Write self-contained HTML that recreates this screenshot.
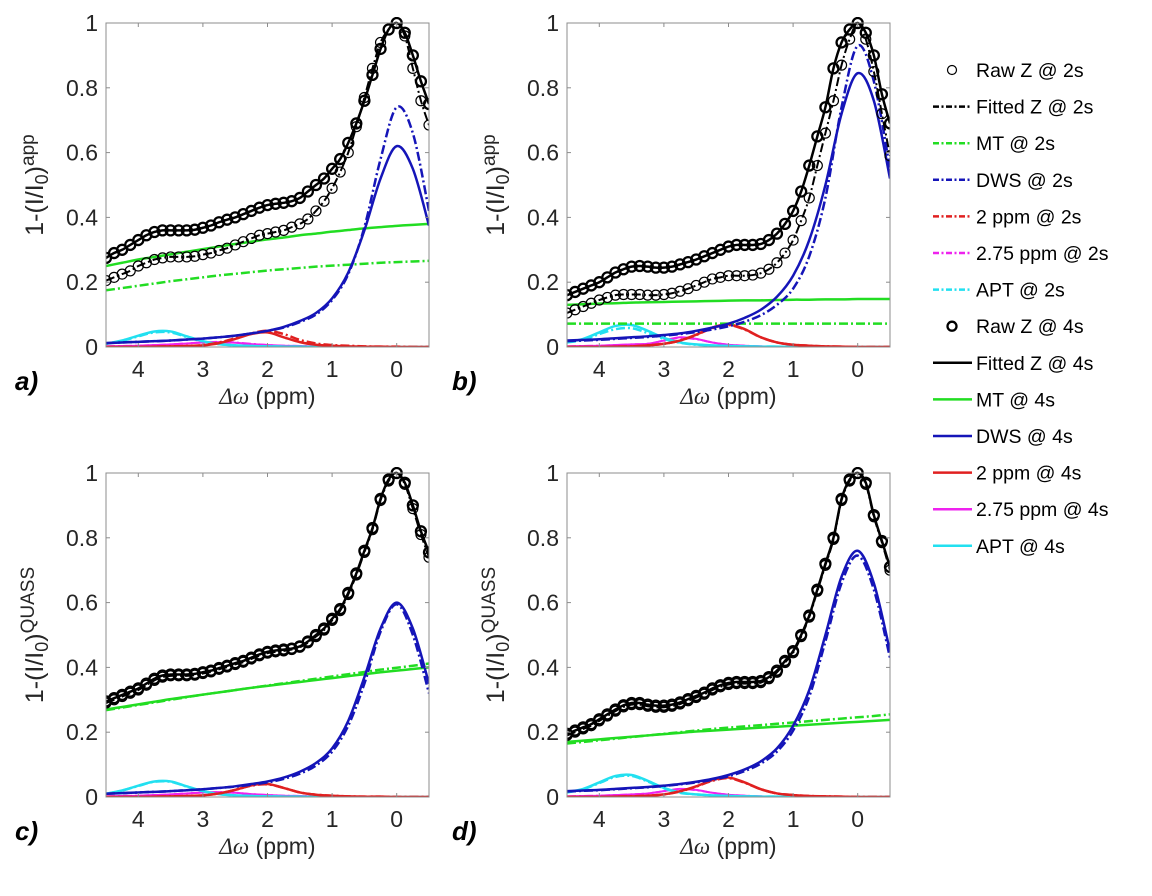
<!DOCTYPE html>
<html><head><meta charset="utf-8"><style>
html,body{margin:0;padding:0;background:#fff;}
svg{display:block;font-family:"Liberation Sans",sans-serif;}
</style></head><body>
<svg id="fig" width="1152" height="896" viewBox="0 0 1152 896" xmlns="http://www.w3.org/2000/svg"></svg>
<script>
// x grids (ppm)
const xFine = [];  for (let i=0;i<=40;i++) xFine.push(4.5 - i*0.125);
const xCoarse = []; for (let i=0;i<=20;i++) xCoarse.push(4.5 - i*0.25);
const yTicks = [0,0.2,0.4,0.6,0.8,1];
const yTickLabels = ["0","0.2","0.4","0.6","0.8","1"];
const xTicks = [4,3,2,1,0];
const xTickLabels = ["4","3","2","1","0"];

// ---- panel a ----
const aRaw4 = [0.275,0.29,0.30,0.315,0.33,0.345,0.355,0.36,0.36,0.36,0.36,0.362,0.368,0.375,0.385,0.393,0.40,0.41,0.42,0.43,0.438,0.442,0.445,0.45,0.46,0.48,0.50,0.52,0.55,0.58,0.63,0.69,0.76,0.84,0.92,0.98,1.0,0.97,0.90,0.82,0.75];
const aRaw2 = [0.205,0.215,0.225,0.235,0.25,0.26,0.27,0.275,0.278,0.278,0.278,0.28,0.285,0.29,0.298,0.305,0.315,0.325,0.335,0.345,0.35,0.355,0.36,0.37,0.38,0.395,0.42,0.45,0.49,0.54,0.60,0.68,0.77,0.86,0.94,0.98,1.0,0.96,0.86,0.76,0.685];
const aMT4 = [0.25,0.26,0.27,0.278,0.286,0.294,0.302,0.31,0.318,0.325,0.332,0.338,0.345,0.35,0.356,0.361,0.366,0.37,0.374,0.377,0.38];
const aMT2 = [0.175,0.182,0.189,0.196,0.203,0.209,0.215,0.221,0.226,0.231,0.236,0.24,0.244,0.248,0.251,0.254,0.257,0.26,0.262,0.264,0.266];
const aDWS4 = [0.012,0.014,0.016,0.018,0.02,0.023,0.026,0.03,0.035,0.042,0.05,0.062,0.08,0.105,0.15,0.23,0.36,0.52,0.62,0.55,0.375];
const aDWS2 = [0.012,0.014,0.016,0.018,0.02,0.023,0.026,0.03,0.035,0.042,0.05,0.06,0.077,0.1,0.145,0.225,0.37,0.58,0.74,0.66,0.42];
const aP2_4 = [0,0,0,0.001,0.002,0.003,0.005,0.012,0.025,0.04,0.045,0.03,0.015,0.007,0.004,0.002,0.001,0.001,0,0,0];
const aP2_2 = [0,0,0,0.001,0.002,0.003,0.006,0.014,0.027,0.042,0.05,0.04,0.022,0.011,0.006,0.004,0.002,0.001,0.001,0,0];
const aP275_4 = [0.002,0.003,0.004,0.006,0.008,0.011,0.014,0.015,0.013,0.009,0.006,0.004,0.003,0.002,0.001,0.001,0,0,0,0,0];
const aP275_2 = [0.002,0.003,0.004,0.006,0.008,0.011,0.014,0.016,0.014,0.01,0.006,0.004,0.003,0.002,0.001,0.001,0,0,0,0,0];
const aAPT4 = [0.01,0.02,0.035,0.048,0.048,0.033,0.018,0.009,0.005,0.003,0.002,0.001,0.001,0,0,0,0,0,0,0,0];
const aAPT2 = [0.01,0.019,0.033,0.045,0.045,0.031,0.017,0.009,0.005,0.003,0.002,0.001,0.001,0,0,0,0,0,0,0,0];

// ---- panel b ----
const bRaw4 = [0.16,0.17,0.18,0.19,0.2,0.215,0.23,0.24,0.248,0.25,0.248,0.245,0.245,0.248,0.255,0.262,0.27,0.28,0.29,0.30,0.31,0.315,0.315,0.315,0.318,0.33,0.35,0.38,0.42,0.48,0.56,0.65,0.74,0.86,0.94,0.98,1.0,0.97,0.90,0.78,0.69];
const bRaw2 = [0.105,0.115,0.125,0.135,0.145,0.153,0.16,0.162,0.162,0.162,0.16,0.16,0.162,0.166,0.172,0.18,0.19,0.2,0.21,0.215,0.22,0.22,0.22,0.222,0.228,0.24,0.26,0.29,0.33,0.39,0.46,0.56,0.66,0.76,0.87,0.95,1.0,0.95,0.85,0.72,0.59];
const bMT4 = [0.13,0.132,0.134,0.135,0.137,0.138,0.139,0.14,0.141,0.142,0.143,0.144,0.144,0.145,0.146,0.146,0.147,0.147,0.148,0.148,0.148];
const bMT2 = [0.072,0.072,0.072,0.072,0.072,0.072,0.072,0.072,0.072,0.072,0.072,0.072,0.072,0.072,0.072,0.072,0.072,0.072,0.072,0.072,0.072];
const bDWS4 = [0.02,0.022,0.024,0.027,0.03,0.033,0.037,0.042,0.05,0.06,0.072,0.09,0.115,0.155,0.22,0.33,0.5,0.72,0.845,0.76,0.52];
const bDWS2 = [0.018,0.02,0.022,0.025,0.028,0.031,0.035,0.04,0.046,0.054,0.064,0.078,0.098,0.13,0.18,0.28,0.46,0.74,0.93,0.82,0.55];
const bP2_4 = [0,0,0,0.001,0.002,0.005,0.01,0.02,0.038,0.06,0.07,0.055,0.03,0.014,0.007,0.004,0.002,0.001,0,0,0];
const bP2_2 = [0,0,0,0.001,0.002,0.005,0.01,0.02,0.037,0.058,0.068,0.054,0.03,0.014,0.007,0.004,0.002,0.001,0,0,0];
const bP275_4 = [0.002,0.003,0.004,0.006,0.008,0.01,0.02,0.03,0.025,0.014,0.007,0.004,0.002,0.001,0.001,0,0,0,0,0,0];
const bP275_2 = [0.002,0.003,0.004,0.006,0.008,0.01,0.019,0.028,0.024,0.014,0.007,0.004,0.002,0.001,0.001,0,0,0,0,0,0];
const bAPT4 = [0.015,0.025,0.045,0.065,0.068,0.05,0.028,0.014,0.008,0.005,0.003,0.002,0.001,0.001,0,0,0,0,0,0,0];
const bAPT2 = [0.014,0.022,0.04,0.055,0.058,0.043,0.025,0.013,0.007,0.004,0.003,0.002,0.001,0.001,0,0,0,0,0,0,0];

// ---- panel c ----
const cRaw4 = [0.295,0.305,0.315,0.325,0.335,0.35,0.365,0.375,0.378,0.378,0.378,0.38,0.385,0.39,0.398,0.405,0.413,0.42,0.43,0.44,0.448,0.452,0.455,0.458,0.465,0.48,0.5,0.52,0.55,0.58,0.63,0.69,0.76,0.83,0.92,0.98,1.0,0.97,0.90,0.82,0.755];
const cRaw2 = [0.29,0.3,0.31,0.32,0.33,0.345,0.36,0.37,0.374,0.374,0.374,0.376,0.381,0.386,0.394,0.401,0.409,0.416,0.426,0.436,0.444,0.448,0.451,0.455,0.462,0.476,0.495,0.515,0.545,0.575,0.625,0.685,0.755,0.825,0.915,0.975,1.0,0.965,0.89,0.81,0.74];
const cMT4 = [0.27,0.278,0.286,0.294,0.302,0.309,0.316,0.323,0.33,0.337,0.343,0.349,0.355,0.361,0.367,0.373,0.379,0.385,0.39,0.395,0.40];
const cMT2 = [0.268,0.276,0.284,0.292,0.3,0.308,0.316,0.323,0.33,0.337,0.344,0.351,0.358,0.365,0.372,0.379,0.386,0.393,0.399,0.405,0.412];
const cDWS4 = [0.01,0.012,0.014,0.016,0.018,0.021,0.024,0.028,0.033,0.04,0.048,0.06,0.078,0.105,0.15,0.235,0.37,0.52,0.6,0.52,0.35];
const cDWS2 = [0.01,0.012,0.014,0.016,0.018,0.021,0.024,0.028,0.032,0.038,0.045,0.056,0.072,0.097,0.14,0.22,0.35,0.51,0.595,0.5,0.32];
const cP2_4 = [0,0,0,0.001,0.002,0.003,0.005,0.011,0.022,0.036,0.04,0.028,0.014,0.007,0.004,0.002,0.001,0.001,0,0,0];
const cP2_2 = [0,0,0,0.001,0.002,0.003,0.005,0.011,0.022,0.035,0.039,0.028,0.014,0.007,0.004,0.002,0.001,0.001,0,0,0];
const cP275_4 = [0.002,0.003,0.004,0.006,0.008,0.011,0.014,0.015,0.013,0.009,0.006,0.004,0.003,0.002,0.001,0.001,0,0,0,0,0];
const cP275_2 = [0.002,0.003,0.004,0.006,0.008,0.011,0.014,0.015,0.013,0.009,0.006,0.004,0.003,0.002,0.001,0.001,0,0,0,0,0];
const cAPT4 = [0.01,0.02,0.035,0.048,0.048,0.033,0.018,0.009,0.005,0.003,0.002,0.001,0.001,0,0,0,0,0,0,0,0];
const cAPT2 = [0.01,0.02,0.034,0.047,0.047,0.032,0.018,0.009,0.005,0.003,0.002,0.001,0.001,0,0,0,0,0,0,0,0];

// ---- panel d ----
const dRaw4 = [0.195,0.205,0.215,0.225,0.24,0.255,0.27,0.283,0.29,0.29,0.285,0.282,0.282,0.285,0.292,0.302,0.312,0.322,0.335,0.345,0.352,0.355,0.355,0.355,0.358,0.37,0.39,0.42,0.45,0.5,0.56,0.64,0.72,0.8,0.92,0.98,1.0,0.97,0.87,0.79,0.71];
const dRaw2 = [0.19,0.2,0.21,0.22,0.235,0.25,0.265,0.278,0.285,0.285,0.28,0.277,0.277,0.28,0.287,0.297,0.307,0.317,0.33,0.34,0.347,0.35,0.35,0.35,0.353,0.365,0.385,0.415,0.445,0.495,0.555,0.635,0.715,0.795,0.915,0.975,1.0,0.965,0.865,0.785,0.70];
const dMT4 = [0.17,0.174,0.178,0.182,0.186,0.19,0.194,0.198,0.202,0.205,0.208,0.211,0.214,0.217,0.22,0.223,0.226,0.229,0.232,0.235,0.238];
const dMT2 = [0.165,0.17,0.175,0.18,0.185,0.19,0.195,0.2,0.205,0.21,0.214,0.218,0.222,0.226,0.23,0.234,0.238,0.242,0.246,0.25,0.255];
const dDWS4 = [0.018,0.02,0.022,0.025,0.028,0.031,0.035,0.04,0.047,0.056,0.068,0.085,0.11,0.15,0.22,0.33,0.5,0.68,0.76,0.66,0.45];
const dDWS2 = [0.017,0.019,0.021,0.024,0.027,0.03,0.034,0.039,0.045,0.053,0.064,0.08,0.103,0.14,0.205,0.31,0.48,0.66,0.745,0.64,0.43];
const dP2_4 = [0,0,0,0.001,0.002,0.004,0.008,0.018,0.033,0.052,0.06,0.045,0.024,0.011,0.006,0.003,0.002,0.001,0,0,0];
const dP2_2 = [0,0,0,0.001,0.002,0.004,0.008,0.017,0.032,0.05,0.058,0.044,0.024,0.011,0.006,0.003,0.002,0.001,0,0,0];
const dP275_4 = [0.002,0.003,0.004,0.006,0.008,0.011,0.018,0.025,0.022,0.013,0.007,0.004,0.002,0.001,0.001,0,0,0,0,0,0];
const dP275_2 = [0.002,0.003,0.004,0.006,0.008,0.011,0.018,0.024,0.021,0.013,0.007,0.004,0.002,0.001,0.001,0,0,0,0,0,0];
const dAPT4 = [0.015,0.025,0.045,0.065,0.068,0.05,0.028,0.014,0.008,0.005,0.003,0.002,0.001,0.001,0,0,0,0,0,0,0];
const dAPT2 = [0.014,0.024,0.043,0.062,0.065,0.048,0.027,0.013,0.008,0.005,0.003,0.002,0.001,0.001,0,0,0,0,0,0,0];

const legendLabels = ["Raw Z @ 2s","Fitted Z @ 2s","MT @ 2s","DWS @ 2s","2 ppm @ 2s","2.75 ppm @ 2s","APT @ 2s","Raw Z @ 4s","Fitted Z @ 4s","MT @ 4s","DWS @ 4s","2 ppm @ 4s","2.75 ppm @ 4s","APT @ 4s"];

const NS = "http://www.w3.org/2000/svg";
const svg = document.getElementById('fig');
const COL = {mt:"#22dd22", dws:"#1515b8", p2:"#e02020", p275:"#ee22ee", apt:"#22e0f0", k:"#000"};
const DASH = "9,3,2,3";

function mk(tag, attrs, parent){
  const e = document.createElementNS(NS, tag);
  for (const k in attrs) e.setAttribute(k, attrs[k]);
  (parent||svg).appendChild(e);
  return e;
}
function smoothPath(pts){
  let d = "M"+pts[0][0].toFixed(2)+","+pts[0][1].toFixed(2);
  for (let i=0;i<pts.length-1;i++){
    const p0=pts[Math.max(0,i-1)], p1=pts[i], p2=pts[i+1], p3=pts[Math.min(pts.length-1,i+2)];
    const c1x=p1[0]+(p2[0]-p0[0])/6, c1y=p1[1]+(p2[1]-p0[1])/6;
    const c2x=p2[0]-(p3[0]-p1[0])/6, c2y=p2[1]-(p3[1]-p1[1])/6;
    d += " C"+c1x.toFixed(2)+","+c1y.toFixed(2)+" "+c2x.toFixed(2)+","+c2y.toFixed(2)+" "+p2[0].toFixed(2)+","+p2[1].toFixed(2);
  }
  return d;
}

const panels = [
  {id:"a", left:106, top:23, sup:"app", raw2:aRaw2, raw4:aRaw4, mt2:aMT2, mt4:aMT4, dws2:aDWS2, dws4:aDWS4, p22:aP2_2, p24:aP2_4, p2752:aP275_2, p2754:aP275_4, apt2:aAPT2, apt4:aAPT4, lx:15, ly:390},
  {id:"b", left:567, top:23, sup:"app", raw2:bRaw2, raw4:bRaw4, mt2:bMT2, mt4:bMT4, dws2:bDWS2, dws4:bDWS4, p22:bP2_2, p24:bP2_4, p2752:bP275_2, p2754:bP275_4, apt2:bAPT2, apt4:bAPT4, lx:452, ly:390},
  {id:"c", left:106, top:473, sup:"QUASS", raw2:cRaw2, raw4:cRaw4, mt2:cMT2, mt4:cMT4, dws2:cDWS2, dws4:cDWS4, p22:cP2_2, p24:cP2_4, p2752:cP275_2, p2754:cP275_4, apt2:cAPT2, apt4:cAPT4, lx:15, ly:840},
  {id:"d", left:567, top:473, sup:"QUASS", raw2:dRaw2, raw4:dRaw4, mt2:dMT2, mt4:dMT4, dws2:dDWS2, dws4:dDWS4, p22:dP2_2, p24:dP2_4, p2752:dP275_2, p2754:dP275_4, apt2:dAPT2, apt4:dAPT4, lx:452, ly:840}
];
const W = 323, H = 324;

panels.forEach(p=>{
  const g = mk('g', {});
  
  
  const xs = v => p.left + (4.5 - v) / 5 * W;
  const ys = v => p.top + H - v * H;
  const clipId = 'clip'+p.id;
  const cp = mk('clipPath', {id:clipId}, g);
  mk('rect', {x:p.left, y:p.top-6, width:W, height:H+6}, cp);
  const plot = mk('g', {'clip-path':'url(#'+clipId+')'}, g);
  
  

  function line(arr, xarr, color, dashed, width, name){
    const pts = arr.map((v,i)=>[xs(xarr[i]), ys(v)]);
    const e = mk('path', {d:smoothPath(pts), fill:'none', stroke:color, 'stroke-width':width, 'stroke-linejoin':'round'}, plot);
    if (dashed) e.setAttribute('stroke-dasharray', DASH);
    
    
  }
  line(p.p2754, xCoarse, COL.p275, false, 2, 'p275-4s');
  line(p.p2752, xCoarse, COL.p275, true, 2, 'p275-2s');
  line(p.apt4, xCoarse, COL.apt, false, 2.5, 'apt-4s');
  line(p.apt2, xCoarse, COL.apt, true, 2.5, 'apt-2s');
  line(p.p24, xCoarse, COL.p2, false, 2.5, 'p2-4s');
  line(p.p22, xCoarse, COL.p2, true, 2.5, 'p2-2s');
  line(p.mt4, xCoarse, COL.mt, false, 2.5, 'mt-4s');
  line(p.mt2, xCoarse, COL.mt, true, 2.5, 'mt-2s');
  line(p.dws4, xCoarse, COL.dws, false, 2.5, 'dws-4s');
  line(p.dws2, xCoarse, COL.dws, true, 2.5, 'dws-2s');
  line(p.raw2, xFine, COL.k, true, 2, 'fitted-z-2s');
  line(p.raw4, xFine, COL.k, false, 2.5, 'fitted-z-4s');
  p.raw2.forEach((v,i)=>{
    const c = mk('circle', {cx:xs(xFine[i]), cy:ys(v), r:5, fill:'none', stroke:'#000', 'stroke-width':1.2}, plot);
    
    
  });
  p.raw4.forEach((v,i)=>{
    const c = mk('circle', {cx:xs(xFine[i]), cy:ys(v), r:5, fill:'none', stroke:'#000', 'stroke-width':2.3}, plot);
    
    
  });
  const box = mk('rect', {x:p.left, y:p.top, width:W, height:H, fill:'none', stroke:'#8c8c8c', 'stroke-width':1}, g);
  
  
  yTicks.forEach((t,i)=>{
    const y = ys(t);
    mk('line', {x1:p.left, x2:p.left+4, y1:y, y2:y, stroke:'#8c8c8c'}, g);
    mk('line', {x1:p.left+W, x2:p.left+W-4, y1:y, y2:y, stroke:'#8c8c8c'}, g);
    const tx = mk('text', {x:p.left-8, y:y+8, 'text-anchor':'end', 'font-size':23, fill:'#262626'}, g);
    tx.textContent = yTickLabels[i];
    
    
  });
  xTicks.forEach((t,i)=>{
    const x = xs(t);
    mk('line', {x1:x, x2:x, y1:p.top+H, y2:p.top+H-4, stroke:'#8c8c8c'}, g);
    mk('line', {x1:x, x2:x, y1:p.top, y2:p.top+4, stroke:'#8c8c8c'}, g);
    const tx = mk('text', {x:x, y:p.top+H+30, 'text-anchor':'middle', 'font-size':23, fill:'#262626'}, g);
    tx.textContent = xTickLabels[i];
    
    
  });
  const xl = mk('text', {x:p.left+W/2, y:p.top+H+57, 'text-anchor':'middle', 'font-size':23, fill:'#262626'}, g);
  xl.innerHTML = '<tspan font-family="Liberation Serif, serif" font-style="italic">Δω</tspan> (ppm)';
  
  
  const yl = mk('text', {transform:'translate('+(p.left-63)+','+(p.top+H/2)+') rotate(-90)', 'text-anchor':'middle', 'font-size':25, fill:'#262626'}, g);
  yl.innerHTML = '1-(I/I<tspan baseline-shift="-25%" font-size="18">0</tspan>)<tspan baseline-shift="45%" font-size="19">'+p.sup+'</tspan>';
  
  
  const pl = mk('text', {x:p.lx, y:p.ly, 'font-size':26, 'font-weight':'bold', 'font-style':'italic', fill:'#000'}, g);
  pl.textContent = p.id+')';
  
  
});

const legColors = [null,COL.k,COL.mt,COL.dws,COL.p2,COL.p275,COL.apt,null,COL.k,COL.mt,COL.dws,COL.p2,COL.p275,COL.apt];
const lg = mk('g', {});


legendLabels.forEach((lab,i)=>{
  const y = 70 + i*36.6;
  const eg = mk('g', {}, lg);
  
  
  if (legColors[i] === null){
    mk('circle', {cx:952, cy:y, r:4.5, fill:'none', stroke:'#000', 'stroke-width': i<7 ? 1.2 : 2.3}, eg);
  } else {
    const l = mk('line', {x1:933, x2:972, y1:y, y2:y, stroke:legColors[i], 'stroke-width':2.5}, eg);
    if (i<7) l.setAttribute('stroke-dasharray', '6,2.5,2,2.5');
  }
  const t = mk('text', {x:976, y:y+7, 'font-size':19.5, fill:'#000'}, eg);
  t.textContent = lab;
});
</script>
</body></html>
